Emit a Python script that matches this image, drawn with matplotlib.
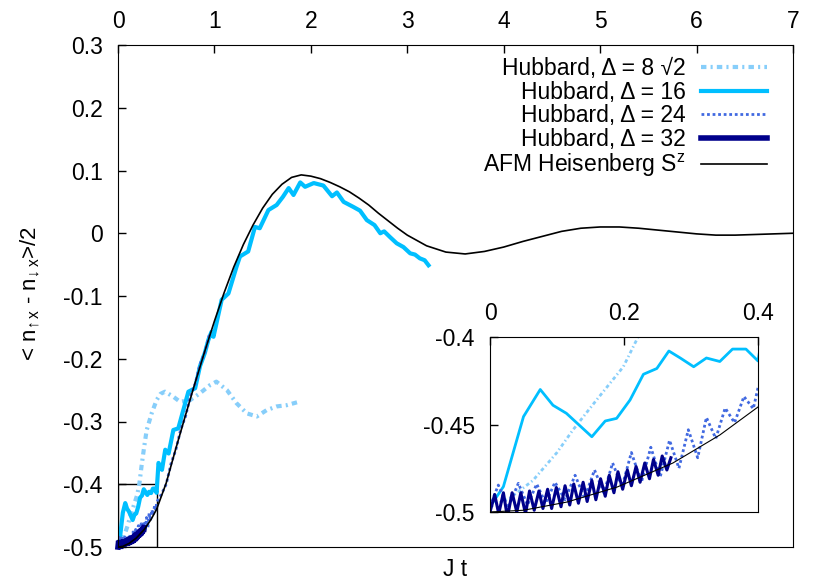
import matplotlib
matplotlib.use('Agg')
import matplotlib.pyplot as plt
from matplotlib.patches import Rectangle

plt.rcParams['font.family'] = ['Liberation Sans', 'DejaVu Sans']
plt.rcParams['mathtext.fontset'] = 'custom'
plt.rcParams['mathtext.rm'] = 'Liberation Sans'
plt.rcParams['mathtext.it'] = 'Liberation Sans:italic'
plt.rcParams['axes.unicode_minus'] = False

# data
t_d8 = [0.0, 0.03, 0.064, 0.10, 0.124, 0.159, 0.199, 0.221, 0.245, 0.27, 0.297, 0.349, 0.40,
        0.44, 0.487, 0.574, 0.643, 0.747, 0.85, 0.954, 1.02, 1.13, 1.23, 1.335, 1.44, 1.54,
        1.645, 1.75, 1.89]
s_d8 = [-0.497, -0.492, -0.482, -0.466, -0.453, -0.436, -0.417, -0.400, -0.370, -0.342, -0.314,
        -0.287, -0.266, -0.256, -0.2525, -0.2605, -0.2685, -0.266, -0.255, -0.242, -0.2365,
        -0.250, -0.271, -0.287, -0.292, -0.282, -0.276, -0.274, -0.268]

t_d16 = [0.0, 0.02, 0.05, 0.075, 0.094, 0.114, 0.152, 0.172, 0.189, 0.209, 0.229, 0.249, 0.267,
         0.284, 0.304, 0.323, 0.343, 0.362, 0.382, 0.40, 0.42, 0.456, 0.49, 0.525, 0.574, 0.625,
         0.677, 0.73, 0.80, 0.85, 0.90, 0.937, 0.97, 0.99, 1.075, 1.145, 1.23, 1.265, 1.35, 1.42,
         1.47, 1.56, 1.645, 1.71, 1.77, 1.82, 1.89, 1.94, 2.03, 2.13, 2.22, 2.27, 2.34, 2.44,
         2.51, 2.58, 2.66, 2.72, 2.76, 2.82, 2.89, 2.96, 3.03, 3.08, 3.13, 3.18, 3.22]
s_d16 = [-0.497, -0.4855, -0.4455, -0.430, -0.439, -0.4436, -0.457, -0.448, -0.4465, -0.436,
         -0.4213, -0.418, -0.408, -0.412, -0.417, -0.412, -0.414, -0.4069, -0.4069, -0.4137,
         -0.366, -0.377, -0.345, -0.351, -0.3135, -0.311, -0.282, -0.2525, -0.247, -0.212,
         -0.191, -0.170, -0.157, -0.165, -0.106, -0.096, -0.053, -0.037, -0.029, 0.010, 0.008,
         0.037, 0.045, 0.058, 0.072, 0.061, 0.081, 0.074, 0.080, 0.076, 0.059, 0.065, 0.050,
         0.042, 0.036, 0.021, 0.013, 0.0, 0.003, -0.006, -0.016, -0.022, -0.032, -0.034,
         -0.040, -0.043, -0.051]

t_d24 = [0.0, 0.0124, 0.027, 0.0423, 0.056, 0.0697, 0.083, 0.097, 0.112, 0.127, 0.141, 0.156,
         0.170, 0.183, 0.197, 0.211, 0.226, 0.240, 0.254, 0.268, 0.282, 0.296, 0.310, 0.323,
         0.337, 0.351, 0.365, 0.379, 0.393, 0.40, 0.45, 0.50, 0.55, 0.60, 0.65, 0.70, 0.75,
         0.80, 0.85, 0.90, 0.95]
s_d24 = [-0.497, -0.4846, -0.4977, -0.4836, -0.496, -0.484, -0.495, -0.483, -0.493, -0.479,
         -0.492, -0.476, -0.489, -0.472, -0.4857, -0.466, -0.483, -0.463, -0.480, -0.459,
         -0.475, -0.453, -0.469, -0.446, -0.458, -0.4406, -0.449, -0.434, -0.441, -0.429,
         -0.416, -0.400, -0.367, -0.345, -0.313, -0.292, -0.260, -0.240, -0.209, -0.190, -0.160]

t_d32 = [0.0, 0.007, 0.013, 0.020, 0.026, 0.033, 0.040, 0.046, 0.053, 0.059, 0.066, 0.073,
         0.079, 0.086, 0.092, 0.099, 0.106, 0.112, 0.119, 0.125, 0.132, 0.139, 0.145, 0.152,
         0.158, 0.165, 0.172, 0.178, 0.185, 0.191, 0.198, 0.205, 0.211, 0.218, 0.224, 0.231,
         0.238, 0.244, 0.251, 0.257, 0.264, 0.27]
s_d32 = [-0.500, -0.490, -0.501, -0.489, -0.503, -0.489, -0.500, -0.489, -0.501, -0.488,
         -0.499, -0.488, -0.498, -0.487, -0.498, -0.486, -0.497, -0.485, -0.496, -0.484,
         -0.495, -0.483, -0.494, -0.482, -0.493, -0.481, -0.491, -0.479, -0.489, -0.477,
         -0.487, -0.476, -0.485, -0.474, -0.483, -0.472, -0.481, -0.470, -0.479, -0.468,
         -0.476, -0.469]

t_afm = [0.0, 0.05, 0.115, 0.19, 0.273, 0.343, 0.4, 0.5, 0.6, 0.7, 0.8, 0.9, 1.0, 1.1, 1.2,
         1.3, 1.4, 1.5, 1.6, 1.7, 1.8, 1.9, 2.0, 2.1, 2.2, 2.3, 2.4, 2.5, 2.6, 2.7, 2.8, 2.9,
         3.0, 3.2, 3.4, 3.6, 3.8, 4.0, 4.2, 4.4, 4.6, 4.8, 5.0, 5.2, 5.4, 5.6, 5.8, 6.0, 6.2,
         6.4, 6.6, 6.8, 7.0]
s_afm = [-0.5, -0.499, -0.4943, -0.4857, -0.472, -0.456, -0.440, -0.398, -0.343, -0.290,
         -0.238, -0.188, -0.140, -0.095, -0.054, -0.018, 0.013, 0.040, 0.062, 0.078, 0.089,
         0.093, 0.091, 0.087, 0.081, 0.074, 0.066, 0.056, 0.045, 0.032, 0.020, 0.008, -0.003,
         -0.020, -0.030, -0.033, -0.029, -0.022, -0.013, -0.005, 0.003, 0.008, 0.010, 0.010,
         0.008, 0.005, 0.002, -0.001, -0.003, -0.003, -0.002, -0.001, 0.0]

labels = ['Hubbard, \u0394 = 8 \u221a2', 'Hubbard, \u0394 = 16', 'Hubbard, \u0394 = 24',
          'Hubbard, \u0394 = 32', r'AFM Heisenberg S$^{\mathrm{z}}$']

main_xticks = [0, 1, 2, 3, 4, 5, 6, 7]
main_yticks = [-0.5, -0.4, -0.3, -0.2, -0.1, 0.0, 0.1, 0.2, 0.3]
main_ylabels = ['-0.5', '-0.4', '-0.3', '-0.2', '-0.1', '0', '0.1', '0.2', '0.3']
inset_xticks = [0, 0.2, 0.4]
inset_xlabels = ['0', '0.2', '0.4']
inset_yticks = [-0.5, -0.45, -0.4]
inset_ylabels = ['-0.5', '-0.45', '-0.4']
inset_xlim = (0, 0.4)
inset_ylim = (-0.5, -0.4)

c8, c16, c24, c32 = '#87cefa', '#00bfff', '#4169e1', '#00008b'
dashdot = (0, (1.3, 1.0, 0.5, 1.0))
fs = 16.5

fig = plt.figure(figsize=(8.3, 5.82), dpi=100)
ax = fig.add_axes([118 / 830, 35 / 582, 675 / 830, 502 / 582])

ax.plot(t_d8, s_d8, color=c8, lw=3, linestyle=dashdot, label=labels[0])
ax.plot(t_d16, s_d16, color=c16, lw=3, label=labels[1])
ax.plot(t_d24, s_d24, color=c24, lw=2, linestyle=(0, (1, 1)), label=labels[2])
ax.plot(t_d32, s_d32, color=c32, lw=4, solid_joinstyle='miter', clip_on=False, label=labels[3])
ax.plot(t_afm, s_afm, color='black', lw=1.2, label=labels[4])

ax.add_patch(Rectangle((inset_xlim[0], inset_ylim[0]), inset_xlim[1] - inset_xlim[0],
                       inset_ylim[1] - inset_ylim[0], fill=False, ec='black', lw=1))

ax.set_xlim(0, 7)
ax.set_ylim(-0.5, 0.3)
ax.set_xticks(main_xticks)
ax.set_yticks(main_yticks)
ax.set_yticklabels(main_ylabels)
ax.tick_params(axis='x', direction='in', top=True, bottom=False, labeltop=True,
               labelbottom=False, length=6, width=1, pad=9, labelsize=fs)
ax.tick_params(axis='y', direction='in', left=True, right=False, length=6, width=1,
               pad=11, labelsize=fs)

leg = ax.legend(loc='upper right', bbox_to_anchor=(0.9615, 0.976), frameon=False,
                markerfirst=False, fontsize=fs, handlelength=2.9, handletextpad=0.65,
                labelspacing=0.03, borderpad=0, borderaxespad=0)

fig.text(30 / 830, 1 - 294 / 582,
         r'$\text{< n}_{\!\uparrow\text{x}}\text{ - n}_{\!\downarrow\text{x}}\text{>/2}$',
         rotation=90, ha='center', va='center', fontsize=16)
fig.text(455 / 830, 1 - 570 / 582, 'J t', ha='center', va='center', fontsize=fs)

axin = fig.add_axes([490 / 830, 70 / 582, 268 / 830, 175 / 582])
axin.plot(t_d8, s_d8, color=c8, lw=2, linestyle=dashdot)
axin.plot(t_d16, s_d16, color=c16, lw=2)
axin.plot(t_d24, s_d24, color=c24, lw=2, linestyle=(0, (1, 1)))
axin.plot(t_d32, s_d32, color=c32, lw=2.2)
axin.plot(t_afm, s_afm, color='black', lw=0.8)
axin.set_xlim(*inset_xlim)
axin.set_ylim(*inset_ylim)
axin.set_xticks(inset_xticks)
axin.set_xticklabels(inset_xlabels)
axin.set_yticks(inset_yticks)
axin.set_yticklabels(inset_ylabels)
axin.tick_params(axis='x', direction='in', top=True, bottom=False, labeltop=True,
                 labelbottom=False, length=6, width=1, pad=9, labelsize=fs)
axin.tick_params(axis='y', direction='in', left=True, right=False, length=6, width=1,
                 pad=11, labelsize=fs)

fig.savefig('out.png', dpi=100)
